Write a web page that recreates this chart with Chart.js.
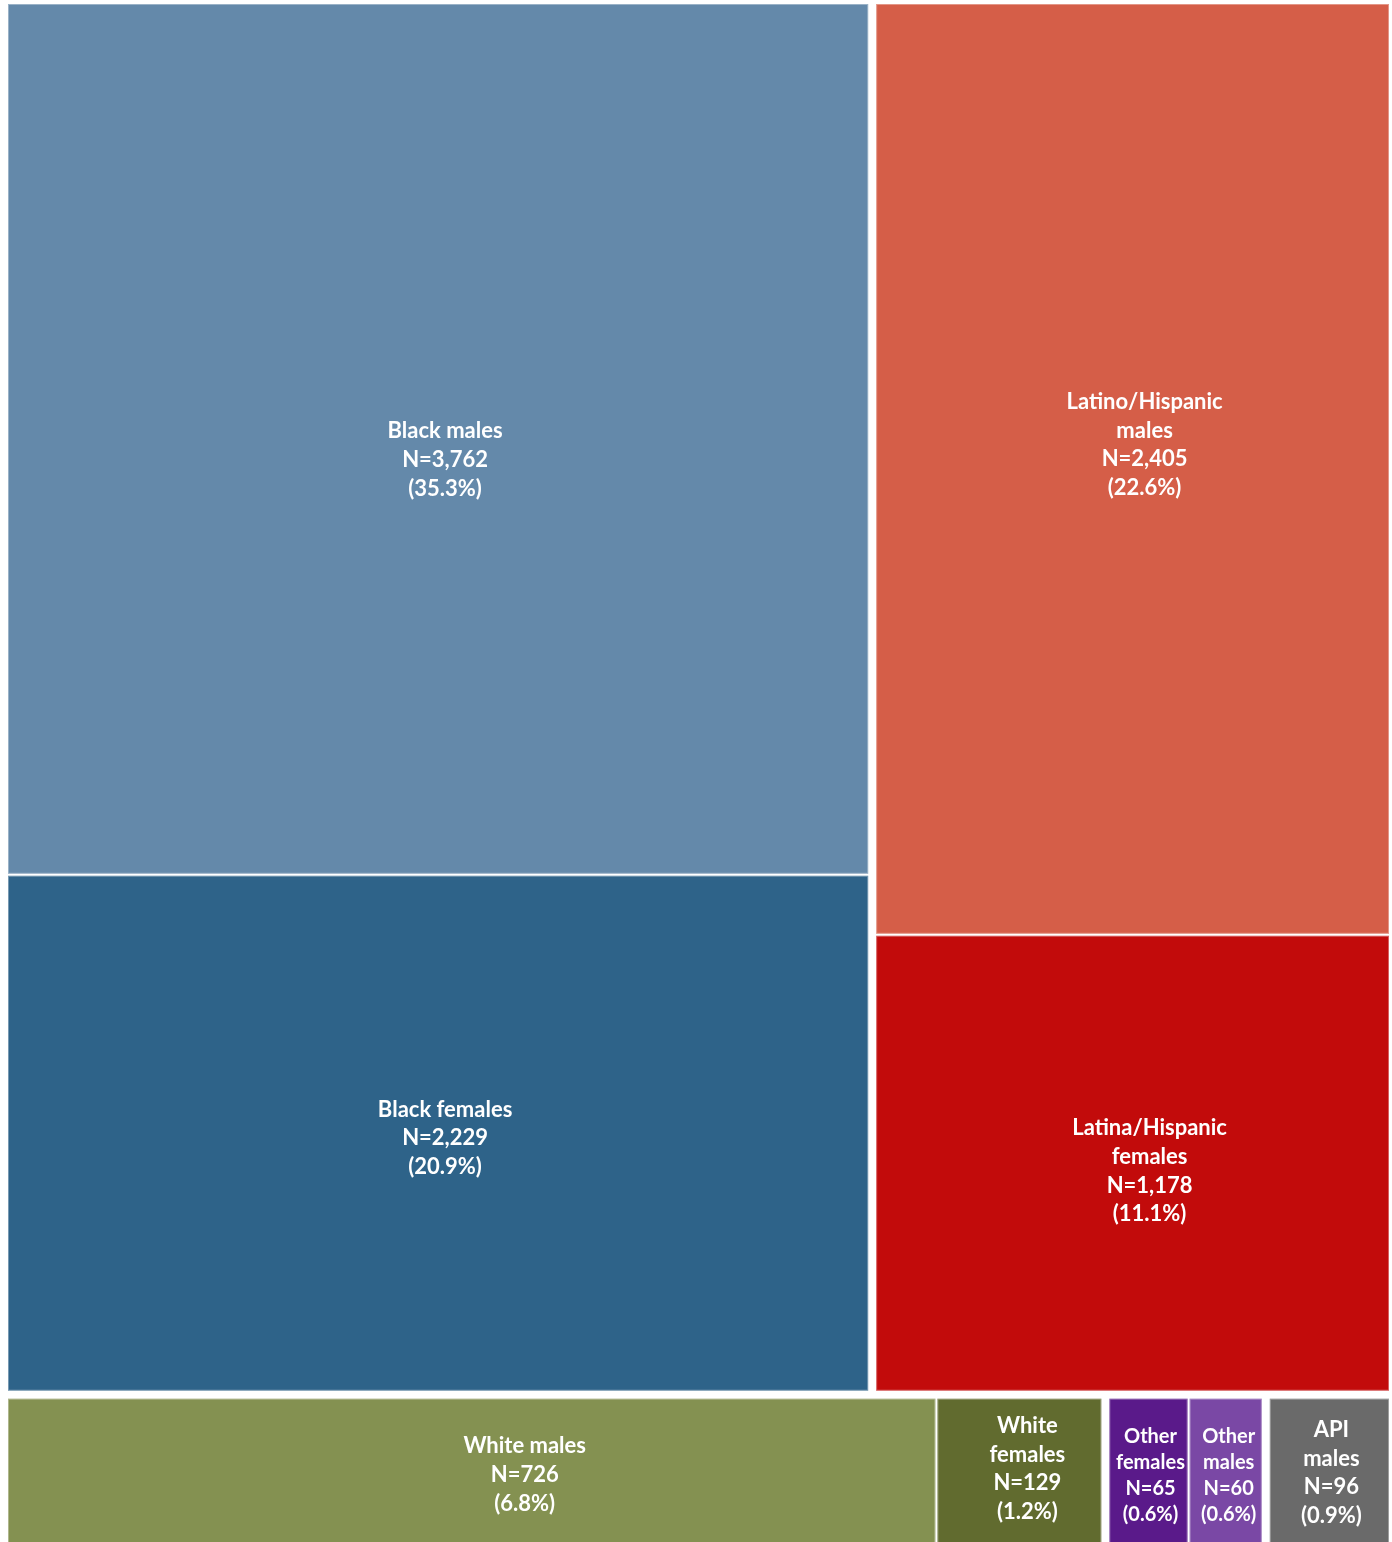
<!DOCTYPE html>
<html>
<head>
<meta charset="utf-8">
<title>Treemap</title>
<script src="https://cdn.jsdelivr.net/npm/chart.js@4/dist/chart.umd.min.js"></script>
<style>
  html, body { margin: 0; padding: 0; background: #ffffff; overflow: hidden; }
  #wrap { position: absolute; left: 0; top: 0; width: 1392px; height: 1551px; }
</style>
</head>
<body>
<div id="wrap"><canvas id="chart"></canvas></div>
<script>
// Leaf tiles (ordered largest first inside each group)
const categories = [
  'Black males', 'Black females',
  'Latino/Hispanic\nmales', 'Latina/Hispanic\nfemales',
  'White males', 'White\nfemales',
  'Other\nfemales', 'Other\nmales',
  'API\nmales'
];
const groupOf = ['Black', 'Black', 'Latino', 'Latino', 'White', 'White', 'Other', 'Other', 'API'];
const counts = [3762, 2229, 2405, 1178, 726, 129, 65, 60, 96];
const tileColors = ['#6489aa', '#2e6389', '#d55e48', '#c20b0b', '#849151', '#616b2f', '#5a1a8a', '#7a48a5', '#6a6a6a'];

const total = counts.reduce((a, b) => a + b, 0);
const PHI = (1 + Math.sqrt(5)) / 2;

// Group the leaves, keeping first-seen order
function buildGroups() {
  const order = [];
  const map = {};
  groupOf.forEach((g, i) => {
    if (!map[g]) { map[g] = { name: g, items: [], sum: 0 }; order.push(map[g]); }
    map[g].items.push(i);
    map[g].sum += counts[i];
  });
  return order;
}

// Squarified layout: a strip grows while its leading tile's shape moves
// closer to the golden ratio.
function layout(values, rect) {
  const sum = values.reduce((a, b) => a + b, 0);
  const k = rect.w * rect.h / sum;
  const areas = values.map(v => v * k);
  const out = [];
  let r = { ...rect };
  let i = 0;
  const lead = (row, side) => {
    const s = row.reduce((a, b) => a + b, 0);
    const depth = s / side;
    const len = row[0] / depth;
    const ar = Math.max(depth / len, len / depth);
    return Math.abs(ar - PHI);
  };
  while (i < areas.length) {
    const side = Math.min(r.w, r.h);
    let row = [areas[i]];
    let j = i + 1;
    while (j < areas.length) {
      const next = row.concat(areas[j]);
      if (lead(next, side) < lead(row, side)) { row = next; j++; } else break;
    }
    const s = row.reduce((a, b) => a + b, 0);
    if (r.w >= r.h) {
      const cw = s / r.h;
      let y = r.y;
      row.forEach(a => { const h = a / cw; out.push({ x: r.x, y, w: cw, h }); y += h; });
      r = { x: r.x + cw, y: r.y, w: r.w - cw, h: r.h };
    } else {
      const rh = s / r.w;
      let x = r.x;
      row.forEach(a => { const w = a / rh; out.push({ x, y: r.y, w, h: rh }); x += w; });
      r = { x: r.x, y: r.y + rh, w: r.w, h: r.h - rh };
    }
    i = j;
  }
  return out;
}

// Shrink a rectangle on the sides that face a neighbour
function inset(rc, parent, g) {
  const e = 0.5;
  const l = rc.x - parent.x > e ? g : 0;
  const t = rc.y - parent.y > e ? g : 0;
  const rr = (parent.x + parent.w) - (rc.x + rc.w) > e ? g : 0;
  const b = (parent.y + parent.h) - (rc.y + rc.h) > e ? g : 0;
  return { x: rc.x + l, y: rc.y + t, w: rc.w - l - rr, h: rc.h - t - b };
}

const FONT_FAMILY = 'Lato, "Open Sans", sans-serif';

function labelLines(idx) {
  const pct = (counts[idx] / total * 100).toFixed(1);
  return categories[idx].split('\n').concat([
    'N=' + counts[idx].toLocaleString('en-US'),
    '(' + pct + '%)'
  ]);
}

const treemapPlugin = {
  id: 'treemapTiles',
  beforeDraw(chart) {
    const c = chart.ctx;
    c.save();
    c.fillStyle = '#ffffff';
    c.fillRect(0, 0, chart.width, chart.height);
    c.restore();
  },
  afterDatasetsDraw(chart, args, opts) {
    const ctx = chart.ctx;
    const xs = chart.scales.x, ys = chart.scales.y;
    const x0 = xs.getPixelForValue(0), x1 = xs.getPixelForValue(1);
    const y0 = ys.getPixelForValue(0), y1 = ys.getPixelForValue(1);
    const area = { x: Math.min(x0, x1), y: Math.min(y0, y1), w: Math.abs(x1 - x0), h: Math.abs(y1 - y0) };
    const nudge = opts.labelNudge || [];

    const groups = buildGroups();
    const groupRects = layout(groups.map(g => g.sum), area);

    ctx.save();
    groups.forEach((g, gi) => {
      const gr = inset(groupRects[gi], area, opts.groupGap / 2);
      const leafRects = layout(g.items.map(i => counts[i]), gr);
      const rects = g.items.map((idx, li) => inset(leafRects[li], gr, opts.tileGap / 2));

      // one label size per group: the largest that fits every tile in it
      let size = opts.fontSize;
      const widest = (lines) => {
        ctx.font = 'bold ' + size + 'px ' + FONT_FAMILY;
        return Math.max(...lines.map(s => ctx.measureText(s).width));
      };
      g.items.forEach((idx, li) => {
        const lines = labelLines(idx);
        while (widest(lines) > rects[li].w - 8 && size > 8) size -= 0.5;
      });
      const lh = size * 1.3;

      g.items.forEach((idx, li) => {
        const r = rects[li];
        ctx.fillStyle = tileColors[idx];
        ctx.fillRect(r.x, r.y, r.w, r.h);
        ctx.strokeStyle = 'rgba(255,255,255,0.35)';
        ctx.lineWidth = 1;
        ctx.strokeRect(r.x + 0.5, r.y + 0.5, r.w - 1, r.h - 1);

        const lines = labelLines(idx);
        const [dx, dy] = nudge[idx] || [0, 0];
        const cx = r.x + r.w / 2 + dx;
        const cy = r.y + r.h / 2 + dy;
        ctx.font = 'bold ' + size + 'px ' + FONT_FAMILY;
        ctx.fillStyle = '#ffffff';
        ctx.textAlign = 'center';
        ctx.textBaseline = 'middle';
        lines.forEach((s, k) => {
          ctx.fillText(s, cx, cy + (k - (lines.length - 1) / 2) * lh);
        });
      });
    });
    ctx.restore();
  }
};

new Chart(document.getElementById('chart'), {
  type: 'scatter',
  data: {
    labels: categories,
    datasets: [{ label: 'N', data: [], pointRadius: 0 }]
  },
  options: {
    responsive: true,
    maintainAspectRatio: false,
    animation: false,
    layout: { padding: { left: 8, top: 4, right: 3, bottom: 0 } },
    plugins: {
      legend: { display: false },
      tooltip: { enabled: false },
      treemapTiles: {
        groupGap: 8,
        tileGap: 2,
        fontSize: 22,
        // label placement tweaks inside each tile, in pixels
        labelNudge: [[7, 21], [7, 5], [12, -24], [17, 8], [53, 0], [8, -6], [2, 1], [3, 1], [2, -2]]
      }
    },
    scales: {
      x: { type: 'linear', min: 0, max: 1, display: false },
      y: { type: 'linear', min: 0, max: 1, reverse: true, display: false }
    }
  },
  plugins: [treemapPlugin]
});
</script>
</body>
</html>
